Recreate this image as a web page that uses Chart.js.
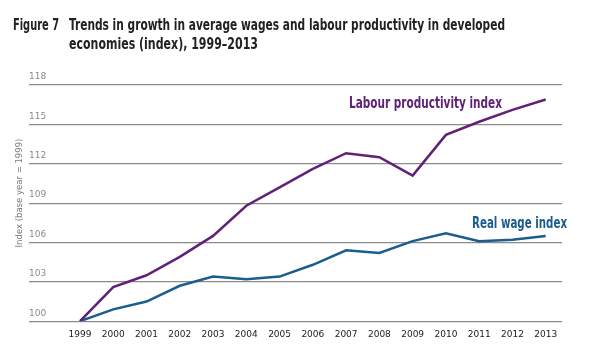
<!DOCTYPE html>
<html lang="en">
<head>
    <meta charset="utf-8">
    <title>Wages and labour productivity</title>
    <script src="https://cdn.jsdelivr.net/npm/chart.js"></script>
    <style>
        html, body { margin: 0; padding: 0; background: #fff; }
        #wrap { width: 600px; height: 350px; }
    </style>
</head>
<body>
    <div id="wrap"><canvas id="chart"></canvas></div>
    <script>
        // data
        const years = [1999, 2000, 2001, 2002, 2003, 2004, 2005, 2006, 2007, 2008, 2009, 2010, 2011, 2012, 2013];
        const productivity = [100, 102.6, 103.5, 104.9, 106.5, 108.8, 110.2, 111.6, 112.8, 112.5, 111.1, 114.2, 115.2, 116.1, 116.9];
        const realWage = [100, 100.9, 101.5, 102.7, 103.4, 103.2, 103.4, 104.3, 105.4, 105.2, 106.1, 106.7, 106.1, 106.2, 106.5];
        const yTicks = [100, 103, 106, 109, 112, 115, 118];

        const purple = '#5f2277';
        const blue = '#1b5d8c';
        const condensed = '"Liberation Sans Narrow", "DejaVu Sans Condensed", sans-serif';

        // draw text squeezed/stretched to a given width
        function fitText(ctx, text, x, y, width, font, color) {
            ctx.save();
            ctx.font = font;
            ctx.fillStyle = color;
            ctx.textBaseline = 'alphabetic';
            ctx.textAlign = 'left';
            const w = ctx.measureText(text).width;
            ctx.translate(x, y);
            ctx.scale(width / w, 1);
            ctx.fillText(text, 0, 0);
            ctx.restore();
        }

        const labels = {
            id: 'labels',
            afterDraw(chart) {
                const ctx = chart.ctx;
                fitText(ctx, 'Figure 7', 13, 29.5, 46, 'bold 15px ' + condensed, '#222');
                fitText(ctx, 'Trends in growth in average wages and labour productivity in developed', 69, 29.5, 436, 'bold 15px ' + condensed, '#222');
                fitText(ctx, 'economies (index), 1999\u20132013', 69, 48.5, 189, 'bold 15px ' + condensed, '#222');
                fitText(ctx, 'Labour productivity index', 349, 108, 153, 'bold 16px ' + condensed, purple);
                fitText(ctx, 'Real wage index', 472, 227.5, 95, 'bold 16px ' + condensed, blue);

                // y axis title
                ctx.save();
                ctx.translate(20, 193);
                ctx.rotate(-Math.PI / 2);
                ctx.font = '8.5px "DejaVu Sans", sans-serif';
                ctx.fillStyle = '#7a7a7a';
                ctx.textAlign = 'center';
                ctx.textBaseline = 'middle';
                ctx.fillText('Index (base year = 1999)', 0, 0);
                ctx.restore();
            }
        };

        new Chart(document.getElementById('chart').getContext('2d'), {
            type: 'line',
            data: {
                datasets: [{
                    label: 'Labour productivity index',
                    data: years.map((y, i) => ({ x: y, y: productivity[i] })),
                    borderColor: purple,
                    borderWidth: 2.5
                }, {
                    label: 'Real wage index',
                    data: years.map((y, i) => ({ x: y, y: realWage[i] })),
                    borderColor: blue,
                    borderWidth: 2.5
                }]
            },
            options: {
                responsive: true,
                maintainAspectRatio: false,
                animation: false,
                elements: { point: { radius: 0 }, line: { tension: 0 } },
                layout: { padding: { left: 29, right: 38, top: 85, bottom: 10 } },
                plugins: { legend: { display: false }, tooltip: { enabled: false } },
                scales: {
                    x: {
                        type: 'linear',
                        min: 1997.467,
                        max: 2013.49,
                        afterBuildTicks: scale => { scale.ticks = years.map(v => ({ value: v })); },
                        grid: { display: false },
                        border: { display: false },
                        ticks: {
                            autoSkip: false,
                            maxRotation: 0,
                            padding: 0,
                            color: '#222',
                            font: { family: '"DejaVu Sans", sans-serif', size: 9 },
                            callback: v => String(v)
                        }
                    },
                    y: {
                        min: 100,
                        max: 118,
                        afterBuildTicks: scale => { scale.ticks = yTicks.map(v => ({ value: v })); },
                        grid: { color: '#8c8c8c', lineWidth: 1.2, drawTicks: false },
                        border: { display: false },
                        ticks: {
                            mirror: true,
                            padding: 0,
                            labelOffset: -8,
                            color: '#8a8a8a',
                            font: { family: '"DejaVu Sans", sans-serif', size: 9 }
                        }
                    }
                }
            },
            plugins: [labels]
        });
    </script>
</body>
</html>
